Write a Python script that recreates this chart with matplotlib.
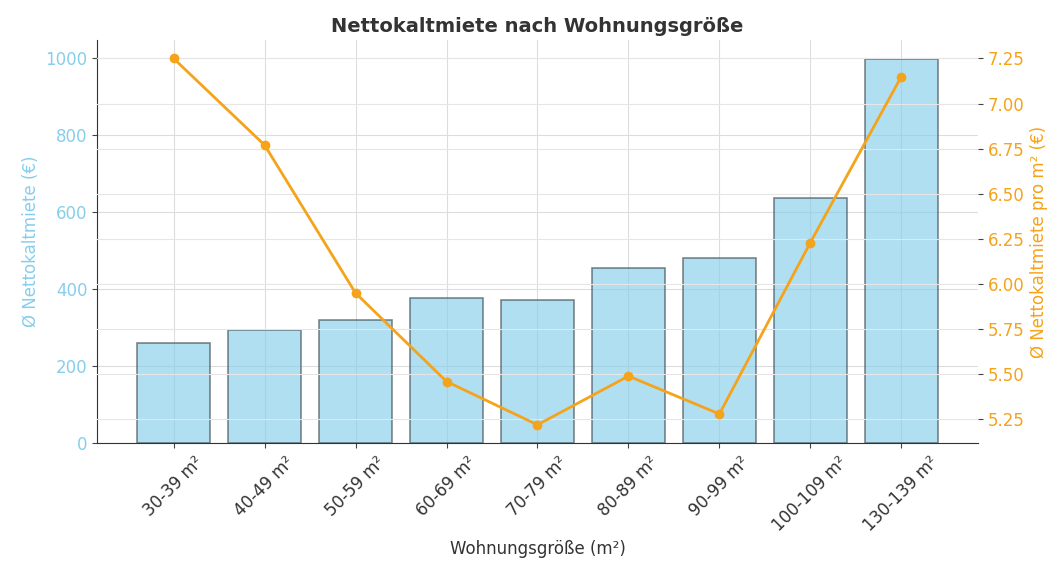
import matplotlib.pyplot as plt
import numpy as np

# Wohnungsgrößen-Klassen
groessen = ['30-39 m²', '40-49 m²', '50-59 m²', '60-69 m²', '70-79 m²',
            '80-89 m²', '90-99 m²', '100-109 m²', '130-139 m²']
# Ø Nettokaltmiete (€)
miete = [259, 293, 321, 376, 372, 454, 481, 637, 997]
# Ø Nettokaltmiete pro m² (€)
miete_qm = [7.25, 6.77, 5.95, 5.46, 5.22, 5.49, 5.28, 6.23, 7.15]

bar_farbe = '#87CEEB'
linie_farbe = '#F5A31A'

fig, ax1 = plt.subplots(figsize=(10.57, 5.74), dpi=100)
x = np.arange(len(groessen))

ax1.bar(x, miete, width=0.8, color=bar_farbe, alpha=0.65,
        edgecolor='#3d4a52', linewidth=1.2, zorder=2)
ax1.set_ylabel('Ø Nettokaltmiete (€)', color=bar_farbe, fontsize=12)
ax1.tick_params(axis='y', labelcolor=bar_farbe, labelsize=12, color='#444444')
ax1.tick_params(axis='x', labelcolor='#333333', color='#444444')
ax1.set_xticks(x)
ax1.set_xticklabels(groessen, rotation=45, fontsize=12)
ax1.set_xlabel('Wohnungsgröße (m²)', fontsize=12, color='#333333')
ax1.grid(True, color='#dddddd', linewidth=0.8, zorder=0)
ax1.set_axisbelow(True)
for s in ['top', 'right']:
    ax1.spines[s].set_visible(False)
ax1.spines['left'].set_color('#333333')
ax1.spines['bottom'].set_color('#333333')

ax2 = ax1.twinx()
ax2.plot(x, miete_qm, color=linie_farbe, marker='o', markersize=6,
         linewidth=2, zorder=3)
ax2.set_ylabel('Ø Nettokaltmiete pro m² (€)', color=linie_farbe, fontsize=12)
ax2.tick_params(axis='y', labelcolor=linie_farbe, labelsize=12, color='#444444')
ax2.grid(True, axis='y', color='#e6e6e6', linewidth=0.8)
for s in ['top', 'right', 'left', 'bottom']:
    ax2.spines[s].set_visible(False)

ax1.set_title('Nettokaltmiete nach Wohnungsgröße', fontsize=14,
              fontweight='bold', color='#333333')

fig.subplots_adjust(left=0.092, right=0.925, top=0.93, bottom=0.228)
plt.savefig('out.png')
